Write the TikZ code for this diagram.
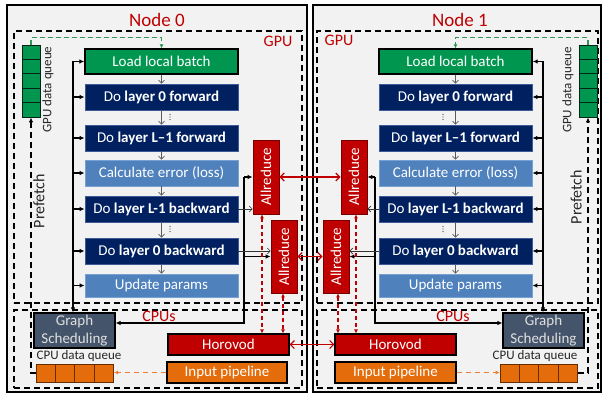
\documentclass[tikz,border=0pt]{standalone}
\usepackage{fontspec}
\usepackage{graphicx}
\setmainfont{Carlito}
\usetikzlibrary{arrows.meta,calc}
\definecolor{bgray}{RGB}{242,242,242}
\definecolor{ngreen}{RGB}{0,150,80}
\definecolor{navy}{RGB}{0,32,96}
\definecolor{navyedge}{RGB}{60,90,150}
\definecolor{midblue}{RGB}{79,129,189}
\definecolor{midedge}{RGB}{120,160,210}
\definecolor{dred}{RGB}{192,0,0}
\definecolor{redge}{RGB}{120,0,0}
\definecolor{slate}{RGB}{68,84,106}
\definecolor{orng}{RGB}{228,108,10}
\definecolor{cedge}{RGB}{100,45,0}
\definecolor{dgreen}{RGB}{50,150,85}
\definecolor{lorange}{RGB}{237,125,49}
\definecolor{flowgray}{RGB}{90,90,90}
\begin{document}
\begin{tikzpicture}[x=1pt,y=-1pt,
  wh/.style 2 args={minimum width=#1pt,minimum height=#2pt},
  nodebox/.style={draw=black,line width=1.6pt,fill=bgray,rectangle,inner sep=0pt},
  zonebox/.style={draw=black,line width=1.2pt,dash pattern=on 6pt off 4pt,rectangle,inner sep=0pt},
  blk/.style={rectangle,inner sep=0pt,text=white,font=\fontsize{15}{17.5}\selectfont},
  greenbox/.style={blk,fill=ngreen,draw=black,line width=1.3pt},
  navybox/.style={blk,fill=navy,draw=navyedge,line width=0.8pt},
  bluebox/.style={blk,fill=midblue,draw=midedge,line width=0.8pt},
  redbox/.style={blk,fill=dred,draw=redge,line width=0.8pt},
  hvbox/.style={blk,fill=dred,draw=black,line width=1.1pt},
  orbox/.style={blk,fill=orng,draw=black,line width=1.1pt},
  gsbox/.style={blk,fill=slate,draw=black,line width=1.1pt,align=center,text=black!12},
  gcell/.style={rectangle,inner sep=0pt,wh={18}{14.4},fill=ngreen,draw=black!75!ngreen,line width=0.8pt},
  ccell/.style={rectangle,inner sep=0pt,wh={19.4}{18},fill=orng,draw=cedge,line width=0.8pt},
  nodetitle/.style={text=dred,font=\fontsize{19}{22}\selectfont},
  zlabel/.style={text=dred,font=\fontsize{16}{18}\selectfont},
  qlabel/.style={text=black!85,font=\fontsize{13}{15}\selectfont},
  preflabel/.style={text=black!85,font=\fontsize{16}{18}\selectfont},
  flowarrow/.style={draw=flowgray,line width=0.7pt,-{Straight Barb[length=3pt,width=6pt]}},
  gradarrow/.style={draw=black!80,line width=0.6pt,-{Straight Barb[length=3pt,width=6pt]}},
  ctrl/.style={draw=black,line width=1.6pt},
  ctrlb/.style={draw=black,line width=1.2pt},
  ctip/.style={-{Latex[length=5pt,width=4.5pt]}},
  net/.style={draw=dred,line width=1.2pt,{Straight Barb[length=4pt,width=8pt]}-{Straight Barb[length=4pt,width=8pt]}},
  netd/.style={draw=dred,line width=1.2pt,dash pattern=on 4pt off 3pt,{Latex[length=4pt,width=4pt]}-{Latex[length=4pt,width=4pt]}},
  pref/.style={draw=black,line width=1.2pt,dash pattern=on 6pt off 4pt},
  gpath/.style={draw=dgreen,line width=1.3pt,dash pattern=on 5pt off 3pt,-{Latex[length=4pt,width=4pt]}},
  opath/.style={draw=lorange,line width=1.5pt,dash pattern=on 5pt off 4pt,-{Latex[length=4pt,width=4pt]}}
]
\useasboundingbox (0,0) rectangle (603,396);

% ================= Node 0 =================
\node[nodebox,wh={300}{387}] (n0) at (157,198.5) {};
\node[zonebox,wh={288}{272}] (gpu0) at (158,167) {};
\node[zonebox,wh={288}{78}] (cpu0) at (158,349) {};
\node[nodetitle] (t0) at (157,20) {Node 0};
\node[zlabel] (gl0) at (278,41) {GPU};
\node[zlabel] (cl0) at (159,316) {CPUs};

\node[greenbox,wh={153}{25}] (load0) at (161.5,61.5) {Load local batch};
\node[navybox,wh={153}{26}] (lf0) at (161.5,97) {Do \textbf{layer 0 forward}};
\node[navybox,wh={153}{26}] (lLf0) at (161.5,138) {Do \textbf{layer L–1 forward}};
\node[bluebox,wh={153}{26}] (calc0) at (161.5,173) {Calculate error (loss)};
\node[navybox,wh={153}{26}] (lLb0) at (161.5,209) {Do \textbf{layer L-1 backward}};
\node[navybox,wh={153}{26}] (lb0) at (161.5,251) {Do \textbf{layer 0 backward}};
\node[bluebox,wh={153}{23}] (upd0) at (161.5,285.5) {Update params};

\node[redbox,wh={26}{74}] (ara0) at (266,177) {\rotatebox{90}{Allreduce}};
\node[redbox,wh={26}{73}] (arb0) at (284,256.5) {\rotatebox{90}{Allreduce}};
\node[hvbox,wh={121}{21}] (hv0) at (228.5,344.5) {Horovod};
\node[orbox,wh={120}{21}] (ip0) at (227,372.5) {Input pipeline};
\node[gsbox,wh={81}{35}] (gs0) at (74.5,330.5) {Graph\\Scheduling};

\foreach \i in {1,...,5} \node[gcell] (gq0-\i) at (31,{45+14.4*(\i-0.5)}) {};
\foreach \i in {1,...,4} \node[ccell] (cq0-\i) at ({36+19.4*(\i-0.5)},373) {};
\node[qlabel,rotate=90] (gql0) at (48,89.5) {GPU data queue};
\node[qlabel] (cql0) at (79,356) {CPU data queue};
\node[preflabel,rotate=90] (pf0) at (39,201) {Prefetch};

\foreach \a/\b in {load0/lf0,lf0/lLf0,lLf0/calc0,calc0/lLb0,lLb0/lb0,lb0/upd0}
  \draw[flowarrow] (\a.south) -- (\b.north);
\foreach \y in {117,229} \foreach \d in {-2.6,0,2.6} \fill[black!70] (170,{\y+\d}) circle (0.65);

\coordinate (L0) at (73,61.5);
\draw[ctrl,ctip] (L0) -- (L0 |- gs0.north);
\foreach \b in {load0,lf0,lLf0,calc0,lLb0,lb0,upd0}
  \draw[ctrlb,ctip] (L0 |- \b.west) -- (\b.west);
\coordinate (R0) at (244,177);
\coordinate (gs0r) at ([yshift=7.5pt]gs0.east);
\draw[ctrl,ctip] (R0) -- (R0 |- gs0r) -- (gs0r);
\draw[ctrlb,ctip] (R0) -- (ara0.west);
\draw[ctrlb,ctip] (R0 |- arb0.west) -- (arb0.west);
\draw[gradarrow] (lLb0.east) -- (lLb0.east -| ara0.west);
\draw[gradarrow] (lb0.east) -- (lb0.east -| arb0.west);
\draw[netd] ([xshift=-4pt]ara0.south) -- ([xshift=-4pt]ara0.south |- hv0.north);
\draw[netd] ([xshift=-1pt]arb0.south) -- ([xshift=-1pt]arb0.south |- hv0.north);
\draw[pref,ctip] (cq0-1.west) -| (gq0-5.south);
\draw[gpath] (gq0-1.north) -- ++(0,-7) -| (load0.north);
\draw[opath] (ip0.west) -- (ip0.west -| cq0-4.east);

% ================= Node 1 =================
\node[nodebox,wh={288}{387}] (n1) at (457,198.5) {};
\node[zonebox,wh={281}{272}] (gpu1) at (457.5,167) {};
\node[zonebox,wh={281}{78}] (cpu1) at (457.5,349) {};
\node[nodetitle] (t1) at (460,20) {Node 1};
\node[zlabel] (gl1) at (339,40) {GPU};
\node[zlabel] (cl1) at (453,316) {CPUs};

\node[greenbox,wh={153}{25}] (load1) at (455.5,61.5) {Load local batch};
\node[navybox,wh={153}{26}] (lf1) at (455.5,97) {Do \textbf{layer 0 forward}};
\node[navybox,wh={153}{26}] (lLf1) at (455.5,138) {Do \textbf{layer L–1 forward}};
\node[bluebox,wh={153}{26}] (calc1) at (455.5,173) {Calculate error (loss)};
\node[navybox,wh={153}{26}] (lLb1) at (455.5,209) {Do \textbf{layer L-1 backward}};
\node[navybox,wh={153}{26}] (lb1) at (455.5,251) {Do \textbf{layer 0 backward}};
\node[bluebox,wh={153}{23}] (upd1) at (455.5,285.5) {Update params};

\node[redbox,wh={26}{74}] (ara1) at (354,177) {\rotatebox{90}{Allreduce}};
\node[redbox,wh={26}{73}] (arb1) at (336,256.5) {\rotatebox{90}{Allreduce}};
\node[hvbox,wh={121}{21}] (hv1) at (395.5,344.5) {Horovod};
\node[orbox,wh={121}{21}] (ip1) at (395.5,372.5) {Input pipeline};
\node[gsbox,wh={81}{35}] (gs1) at (543.5,330.5) {Graph\\Scheduling};

\foreach \i in {1,...,5} \node[gcell] (gq1-\i) at (588,{45+14.4*(\i-0.5)}) {};
\foreach \i in {1,...,4} \node[ccell] (cq1-\i) at ({500+19.4*(\i-0.5)},373) {};
\node[qlabel,rotate=90] (gql1) at (568,90) {GPU data queue};
\node[qlabel] (cql1) at (535,356) {CPU data queue};
\node[preflabel,rotate=90] (pf1) at (576,197) {Prefetch};

\foreach \a/\b in {load1/lf1,lf1/lLf1,lLf1/calc1,calc1/lLb1,lLb1/lb1,lb1/upd1}
  \draw[flowarrow] (\a.south) -- (\b.north);
\foreach \y in {117,229} \foreach \d in {-2.6,0,2.6} \fill[black!70] (443,{\y+\d}) circle (0.65);

\coordinate (L1) at (543,61.5);
\draw[ctrl,ctip] (L1) -- (L1 |- gs1.north);
\foreach \b in {load1,lf1,lLf1,calc1,lLb1,lb1,upd1}
  \draw[ctrlb,ctip] (L1 |- \b.east) -- (\b.east);
\coordinate (R1) at (375,177);
\coordinate (gs1l) at ([yshift=7.5pt]gs1.west);
\draw[ctrl,ctip] (R1) -- (R1 |- gs1l) -- (gs1l);
\draw[ctrlb,ctip] (R1) -- (ara1.east);
\draw[ctrlb,ctip] (R1 |- arb1.east) -- (arb1.east);
\draw[gradarrow] (lLb1.west) -- (lLb1.west -| ara1.east);
\draw[gradarrow] (lb1.west) -- (lb1.west -| arb1.east);
\draw[netd] ([xshift=2pt]ara1.south) -- ([xshift=2pt]ara1.south |- hv1.north);
\draw[netd] ([xshift=2pt]arb1.south) -- ([xshift=2pt]arb1.south |- hv1.north);
\draw[pref,ctip] (cq1-4.east) -| (gq1-5.south);
\draw[gpath] (gq1-1.north) -- ++(0,-7) -| (load1.north);
\draw[opath] (ip1.east) -- (ip1.east -| cq1-1.west);

% ================= between nodes =================
\draw[net] (ara0.east) -- (ara1.west);
\draw[net] (arb0.east) -- (arb1.west);
\draw[net] (hv0.east) -- (hv1.west);
\end{tikzpicture}
\end{document}
